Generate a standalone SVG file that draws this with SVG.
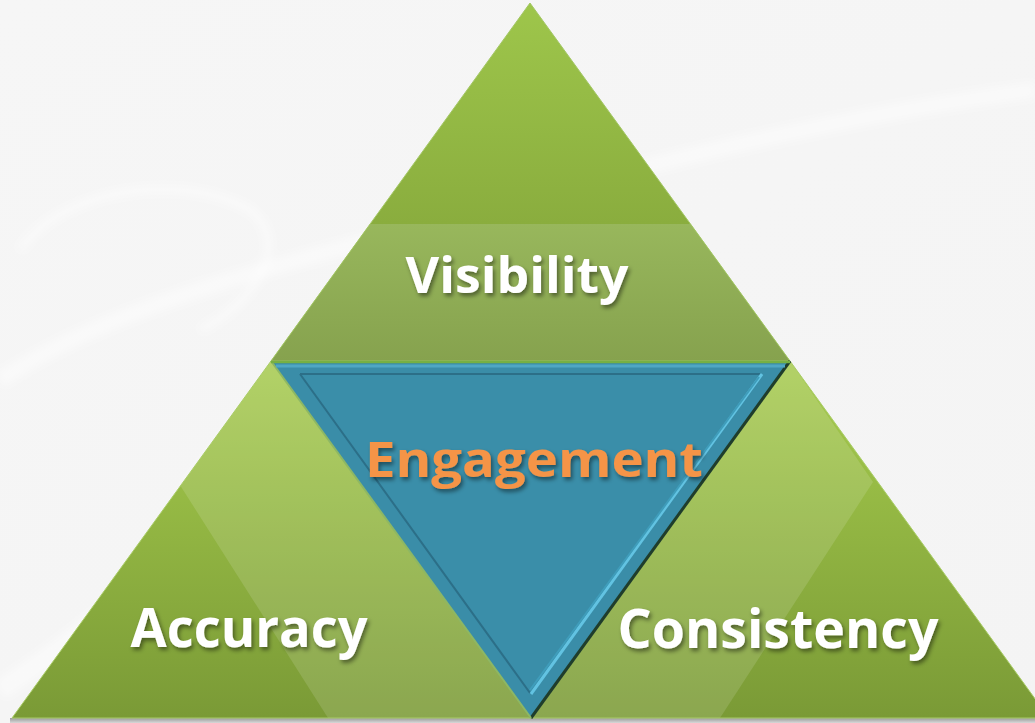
<svg xmlns="http://www.w3.org/2000/svg" width="1035" height="723" viewBox="0 0 1035 723">
  <defs>
    <linearGradient id="bg" x1="0" y1="0" x2="1" y2="1">
      <stop offset="0" stop-color="#f6f6f6"/>
      <stop offset="1" stop-color="#f4f4f4"/>
    </linearGradient>
    <linearGradient id="topUpper" x1="0" y1="3" x2="0" y2="224" gradientUnits="userSpaceOnUse">
      <stop offset="0" stop-color="#9ec64b"/>
      <stop offset="1" stop-color="#8aad3e"/>
    </linearGradient>
    <linearGradient id="topBand" x1="0" y1="224" x2="0" y2="361" gradientUnits="userSpaceOnUse">
      <stop offset="0" stop-color="#98b75c"/>
      <stop offset="1" stop-color="#86a24e"/>
    </linearGradient>
    <linearGradient id="lowGrad" x1="0" y1="361" x2="0" y2="718" gradientUnits="userSpaceOnUse">
      <stop offset="0" stop-color="#a8cb52"/>
      <stop offset="0.35" stop-color="#97bb45"/>
      <stop offset="1" stop-color="#7a9a36"/>
    </linearGradient>
    <linearGradient id="floorShadow" x1="0" y1="718" x2="0" y2="723" gradientUnits="userSpaceOnUse">
      <stop offset="0" stop-color="#9a9a9a"/>
      <stop offset="1" stop-color="#d8d8d8"/>
    </linearGradient>
    <clipPath id="clipTop"><polygon points="530,3 790,361 271,361"/></clipPath>
    <filter id="txtShadow" x="-10%" y="-30%" width="125%" height="170%">
      <feDropShadow dx="2" dy="3" stdDeviation="2" flood-color="#000" flood-opacity="0.45"/>
    </filter>
    <filter id="soft" x="-10%" y="-10%" width="120%" height="120%">
      <feGaussianBlur stdDeviation="4"/>
    </filter>
  </defs>
  <style>
    .lbl { font-family: "Open Sans", "Liberation Sans", Arial, sans-serif; font-weight: 700; text-anchor: middle; filter: url(#txtShadow); }
    .white { fill: #ffffff; }
    .orange { fill: #f59447; }
    .gloss { fill: #ffffff; fill-opacity: 0.13; }
  </style>

  <!-- background -->
  <rect x="0" y="0" width="1035" height="723" fill="url(#bg)"/>
  <g fill="none" stroke="#ffffff" stroke-opacity="0.45" filter="url(#soft)">
    <path d="M0,380 C120,300 300,260 520,200 C700,150 880,110 1035,90" stroke-width="16"/>
    <path d="M0,690 C140,600 260,470 420,330" stroke-width="20"/>
    <path d="M20,250 C60,190 180,170 250,210 C290,240 260,300 200,330" stroke-width="8"/>
  </g>
  <rect x="10" y="718" width="1025" height="5" fill="url(#floorShadow)"/>

  <!-- Visibility (top triangle) -->
  <g id="node-visibility">
    <polygon points="530,3 790,361 271,361" fill="url(#topUpper)"/>
    <rect x="250" y="224" width="560" height="137" fill="url(#topBand)" clip-path="url(#clipTop)"/>
    <polygon points="530,3 790,361 271,361" fill="none" stroke="#a3c765" stroke-width="1"/>
    <text class="lbl white" x="517" y="293" font-size="50" textLength="223" lengthAdjust="spacingAndGlyphs">Visibility</text>
  </g>

  <!-- Accuracy (left triangle) -->
  <g id="node-accuracy">
    <polygon points="271,361 531,718 12,718" fill="url(#lowGrad)"/>
    <polygon points="271,361 178,482 328,718 531,718" class="gloss"/>
    <polygon points="271,361 531,718 12,718" fill="none" stroke="#a9cd66" stroke-width="1"/>
    <text class="lbl white" x="249" y="647" font-size="54" textLength="237" lengthAdjust="spacingAndGlyphs">Accuracy</text>
  </g>

  <!-- Consistency (right triangle) -->
  <g id="node-consistency">
    <polygon points="790,361 1049,718 531,718" fill="url(#lowGrad)"/>
    <polygon points="790,361 873,482 720,718 531,718" class="gloss"/>
    <polygon points="790,361 1049,718 531,718" fill="none" stroke="#a9cd66" stroke-width="1"/>
    <text class="lbl white" x="778" y="648" font-size="54" textLength="321" lengthAdjust="spacingAndGlyphs">Consistency</text>
  </g>

  <!-- Engagement (center inverted triangle) -->
  <g id="node-engagement">
    <polygon points="271,361 790,361 531,718" fill="#3a8da8"/>
    <line x1="531" y1="718" x2="790" y2="361" stroke="#1f3d2c" stroke-width="3"/>
    <line x1="271" y1="361" x2="531" y2="718" stroke="#8db764" stroke-width="2"/>
    <line x1="276" y1="366" x2="785" y2="366" stroke="#4fa7c3" stroke-width="3"/>
    <line x1="271" y1="362" x2="790" y2="362" stroke="#76b043" stroke-width="2.5"/>
    <polygon points="300,374 761,374 530,693" fill="#3a8ea9"/>
    <line x1="300" y1="374" x2="761" y2="374" stroke="#2c6f88" stroke-width="2"/>
    <line x1="300" y1="374" x2="530" y2="693" stroke="#2c6f88" stroke-width="2"/>
    <line x1="762" y1="374" x2="531" y2="694" stroke="#62c3e2" stroke-width="3"/>
    <line x1="759" y1="377" x2="530" y2="690" stroke="#3f9dbb" stroke-width="2"/>
    <text class="lbl orange" x="534" y="477" font-size="49" textLength="338" lengthAdjust="spacingAndGlyphs">Engagement</text>
  </g>

  <g id="connectors"/>
</svg>
